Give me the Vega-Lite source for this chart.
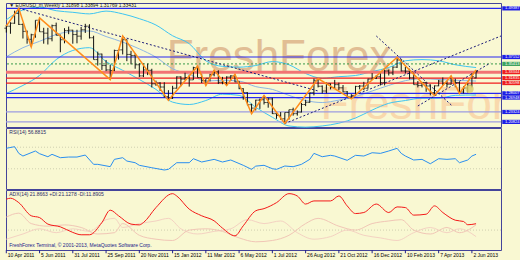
{
"$schema":"https://vega.github.io/schema/vega-lite/v6.json",
"background":"#F9F8D2",
"padding":{"left":2,"top":2,"right":0,"bottom":11},
"spacing":1,
"bounds":"flush",
"config":{"view":{"stroke":"#44449A","strokeWidth":1,"fill":"#F9F8D2"},"font":"Liberation Sans","axis":{"labelFont":"Liberation Sans","labelFontSize":5,"labelColor":"#111111","domainColor":"#8C8CC0","tickColor":"#6A6AAA","tickSize":2,"grid":false,"labelPadding":1}},
"datasets":{
"one":[{}],
"xlabels":[
{"d":"2011-04-10","t":"10 Apr 2011"},{"d":"2011-06-05","t":"5 Jun 2011"},{"d":"2011-07-31","t":"31 Jul 2011"},{"d":"2011-09-25","t":"25 Sep 2011"},
{"d":"2011-11-20","t":"20 Nov 2011"},{"d":"2012-01-15","t":"15 Jan 2012"},{"d":"2012-03-11","t":"11 Mar 2012"},{"d":"2012-05-06","t":"6 May 2012"},
{"d":"2012-07-01","t":"1 Jul 2012"},{"d":"2012-08-26","t":"26 Aug 2012"},{"d":"2012-10-21","t":"21 Oct 2012"},{"d":"2012-12-16","t":"16 Dec 2012"},
{"d":"2013-02-10","t":"10 Feb 2013"},{"d":"2013-04-07","t":"7 Apr 2013"},{"d":"2013-06-02","t":"2 Jun 2013"}
],
"bars":[
{"d":"2011-04-10","o":1.4440,"h":1.4520,"l":1.4330,"c":1.4490},
{"d":"2011-04-17","o":1.4490,"h":1.4590,"l":1.4300,"c":1.4565},
{"d":"2011-04-24","o":1.4565,"h":1.4880,"l":1.4550,"c":1.4810},
{"d":"2011-05-01","o":1.4810,"h":1.4940,"l":1.4520,"c":1.4535},
{"d":"2011-05-08","o":1.4535,"h":1.4560,"l":1.4180,"c":1.4360},
{"d":"2011-05-15","o":1.4360,"h":1.4380,"l":1.4050,"c":1.4160},
{"d":"2011-05-22","o":1.4160,"h":1.4300,"l":1.3970,"c":1.4275},
{"d":"2011-05-29","o":1.4275,"h":1.4640,"l":1.4200,"c":1.4640},
{"d":"2011-06-05","o":1.4640,"h":1.4700,"l":1.4350,"c":1.4350},
{"d":"2011-06-12","o":1.4350,"h":1.4450,"l":1.4050,"c":1.4315},
{"d":"2011-06-19","o":1.4315,"h":1.4450,"l":1.4030,"c":1.4175},
{"d":"2011-06-26","o":1.4175,"h":1.4530,"l":1.4110,"c":1.4505},
{"d":"2011-07-03","o":1.4505,"h":1.4580,"l":1.4260,"c":1.4260},
{"d":"2011-07-10","o":1.4260,"h":1.4280,"l":1.3835,"c":1.4150},
{"d":"2011-07-17","o":1.4150,"h":1.4440,"l":1.4060,"c":1.4380},
{"d":"2011-07-24","o":1.4380,"h":1.4480,"l":1.4290,"c":1.4390},
{"d":"2011-07-31","o":1.4390,"h":1.4400,"l":1.4050,"c":1.4280},
{"d":"2011-08-07","o":1.4280,"h":1.4400,"l":1.4060,"c":1.4240},
{"d":"2011-08-14","o":1.4240,"h":1.4470,"l":1.4150,"c":1.4400},
{"d":"2011-08-21","o":1.4400,"h":1.4550,"l":1.4320,"c":1.4490},
{"d":"2011-08-28","o":1.4490,"h":1.4540,"l":1.4180,"c":1.4200},
{"d":"2011-09-04","o":1.4200,"h":1.4250,"l":1.3650,"c":1.3650},
{"d":"2011-09-11","o":1.3650,"h":1.3850,"l":1.3500,"c":1.3790},
{"d":"2011-09-18","o":1.3790,"h":1.3800,"l":1.3390,"c":1.3500},
{"d":"2011-09-25","o":1.3500,"h":1.3640,"l":1.3360,"c":1.3390},
{"d":"2011-10-02","o":1.3390,"h":1.3520,"l":1.3145,"c":1.3375},
{"d":"2011-10-09","o":1.3375,"h":1.3900,"l":1.3360,"c":1.3880},
{"d":"2011-10-16","o":1.3880,"h":1.3900,"l":1.3650,"c":1.3895},
{"d":"2011-10-23","o":1.3895,"h":1.4245,"l":1.3780,"c":1.4150},
{"d":"2011-10-30","o":1.4150,"h":1.4160,"l":1.3610,"c":1.3780},
{"d":"2011-11-06","o":1.3780,"h":1.3870,"l":1.3530,"c":1.3750},
{"d":"2011-11-13","o":1.3750,"h":1.3810,"l":1.3420,"c":1.3520},
{"d":"2011-11-20","o":1.3520,"h":1.3560,"l":1.3210,"c":1.3240},
{"d":"2011-11-27","o":1.3240,"h":1.3550,"l":1.3210,"c":1.3390},
{"d":"2011-12-04","o":1.3390,"h":1.3550,"l":1.3260,"c":1.3380},
{"d":"2011-12-11","o":1.3380,"h":1.3420,"l":1.2950,"c":1.3040},
{"d":"2011-12-18","o":1.3040,"h":1.3120,"l":1.2990,"c":1.3060},
{"d":"2011-12-25","o":1.3060,"h":1.3080,"l":1.2860,"c":1.2960},
{"d":"2012-01-01","o":1.2960,"h":1.3080,"l":1.2700,"c":1.2720},
{"d":"2012-01-08","o":1.2720,"h":1.2880,"l":1.2625,"c":1.2680},
{"d":"2012-01-15","o":1.2680,"h":1.2990,"l":1.2660,"c":1.2930},
{"d":"2012-01-22","o":1.2930,"h":1.3230,"l":1.2920,"c":1.3215},
{"d":"2012-01-29","o":1.3215,"h":1.3230,"l":1.2980,"c":1.3160},
{"d":"2012-02-05","o":1.3160,"h":1.3320,"l":1.3140,"c":1.3200},
{"d":"2012-02-12","o":1.3200,"h":1.3260,"l":1.2970,"c":1.3140},
{"d":"2012-02-19","o":1.3140,"h":1.3470,"l":1.3140,"c":1.3450},
{"d":"2012-02-26","o":1.3450,"h":1.3485,"l":1.3200,"c":1.3200},
{"d":"2012-03-04","o":1.3200,"h":1.3290,"l":1.3060,"c":1.3120},
{"d":"2012-03-11","o":1.3120,"h":1.3160,"l":1.3000,"c":1.3180},
{"d":"2012-03-18","o":1.3180,"h":1.3290,"l":1.3100,"c":1.3270},
{"d":"2012-03-25","o":1.3270,"h":1.3385,"l":1.3230,"c":1.3340},
{"d":"2012-04-01","o":1.3340,"h":1.3380,"l":1.3035,"c":1.3080},
{"d":"2012-04-08","o":1.3080,"h":1.3215,"l":1.3030,"c":1.3070},
{"d":"2012-04-15","o":1.3070,"h":1.3230,"l":1.2995,"c":1.3210},
{"d":"2012-04-22","o":1.3210,"h":1.3260,"l":1.3115,"c":1.3240},
{"d":"2012-04-29","o":1.3240,"h":1.3283,"l":1.3080,"c":1.3090},
{"d":"2012-05-06","o":1.3090,"h":1.3110,"l":1.2905,"c":1.2920},
{"d":"2012-05-13","o":1.2920,"h":1.2930,"l":1.2640,"c":1.2820},
{"d":"2012-05-20","o":1.2820,"h":1.2830,"l":1.2500,"c":1.2515},
{"d":"2012-05-27","o":1.2515,"h":1.2540,"l":1.2288,"c":1.2430},
{"d":"2012-06-03","o":1.2430,"h":1.2640,"l":1.2370,"c":1.2630},
{"d":"2012-06-10","o":1.2630,"h":1.2670,"l":1.2410,"c":1.2640},
{"d":"2012-06-17","o":1.2640,"h":1.2747,"l":1.2520,"c":1.2570},
{"d":"2012-06-24","o":1.2570,"h":1.2690,"l":1.2440,"c":1.2660},
{"d":"2012-07-01","o":1.2660,"h":1.2690,"l":1.2280,"c":1.2290},
{"d":"2012-07-08","o":1.2290,"h":1.2300,"l":1.2160,"c":1.2245},
{"d":"2012-07-15","o":1.2245,"h":1.2330,"l":1.2140,"c":1.2160},
{"d":"2012-07-22","o":1.2160,"h":1.2320,"l":1.2042,"c":1.2320},
{"d":"2012-07-29","o":1.2320,"h":1.2390,"l":1.2140,"c":1.2390},
{"d":"2012-08-05","o":1.2390,"h":1.2440,"l":1.2240,"c":1.2290},
{"d":"2012-08-12","o":1.2290,"h":1.2370,"l":1.2240,"c":1.2330},
{"d":"2012-08-19","o":1.2330,"h":1.2560,"l":1.2320,"c":1.2520},
{"d":"2012-08-26","o":1.2520,"h":1.2640,"l":1.2480,"c":1.2575},
{"d":"2012-09-02","o":1.2575,"h":1.2820,"l":1.2560,"c":1.2815},
{"d":"2012-09-09","o":1.2815,"h":1.3170,"l":1.2750,"c":1.3130},
{"d":"2012-09-16","o":1.3130,"h":1.3172,"l":1.2950,"c":1.2980},
{"d":"2012-09-23","o":1.2980,"h":1.3000,"l":1.2800,"c":1.2860},
{"d":"2012-09-30","o":1.2860,"h":1.3070,"l":1.2800,"c":1.3040},
{"d":"2012-10-07","o":1.3040,"h":1.3050,"l":1.2900,"c":1.2950},
{"d":"2012-10-14","o":1.2950,"h":1.3140,"l":1.2920,"c":1.3020},
{"d":"2012-10-21","o":1.3020,"h":1.3070,"l":1.2880,"c":1.2940},
{"d":"2012-10-28","o":1.2940,"h":1.3010,"l":1.2830,"c":1.2840},
{"d":"2012-11-04","o":1.2840,"h":1.2860,"l":1.2700,"c":1.2710},
{"d":"2012-11-11","o":1.2710,"h":1.2780,"l":1.2661,"c":1.2740},
{"d":"2012-11-18","o":1.2740,"h":1.2990,"l":1.2740,"c":1.2975},
{"d":"2012-11-25","o":1.2975,"h":1.3010,"l":1.2900,"c":1.2985},
{"d":"2012-12-02","o":1.2985,"h":1.3090,"l":1.2880,"c":1.2930},
{"d":"2012-12-09","o":1.2930,"h":1.3170,"l":1.2920,"c":1.3160},
{"d":"2012-12-16","o":1.3160,"h":1.3310,"l":1.3140,"c":1.3180},
{"d":"2012-12-23","o":1.3180,"h":1.3260,"l":1.3160,"c":1.3220},
{"d":"2012-12-30","o":1.3220,"h":1.3300,"l":1.3000,"c":1.3070},
{"d":"2013-01-06","o":1.3070,"h":1.3400,"l":1.3000,"c":1.3365},
{"d":"2013-01-13","o":1.3365,"h":1.3400,"l":1.3250,"c":1.3315},
{"d":"2013-01-20","o":1.3315,"h":1.3480,"l":1.3260,"c":1.3460},
{"d":"2013-01-27","o":1.3460,"h":1.3711,"l":1.3440,"c":1.3640},
{"d":"2013-02-03","o":1.3640,"h":1.3660,"l":1.3350,"c":1.3365},
{"d":"2013-02-10","o":1.3365,"h":1.3470,"l":1.3300,"c":1.3360},
{"d":"2013-02-17","o":1.3360,"h":1.3420,"l":1.3150,"c":1.3190},
{"d":"2013-02-24","o":1.3190,"h":1.3320,"l":1.3020,"c":1.3020},
{"d":"2013-03-03","o":1.3020,"h":1.3110,"l":1.2950,"c":1.3000},
{"d":"2013-03-10","o":1.3000,"h":1.3080,"l":1.2950,"c":1.3075},
{"d":"2013-03-17","o":1.3075,"h":1.3080,"l":1.2840,"c":1.2985},
{"d":"2013-03-24","o":1.2985,"h":1.3030,"l":1.2750,"c":1.2820},
{"d":"2013-03-31","o":1.2820,"h":1.3000,"l":1.2745,"c":1.2990},
{"d":"2013-04-07","o":1.2990,"h":1.3140,"l":1.2980,"c":1.3110},
{"d":"2013-04-14","o":1.3110,"h":1.3200,"l":1.2995,"c":1.3050},
{"d":"2013-04-21","o":1.3050,"h":1.3110,"l":1.2950,"c":1.3030},
{"d":"2013-04-28","o":1.3030,"h":1.3242,"l":1.3020,"c":1.3110},
{"d":"2013-05-05","o":1.3110,"h":1.3170,"l":1.2955,"c":1.3070},
{"d":"2013-05-12","o":1.3070,"h":1.3090,"l":1.2796,"c":1.2835},
{"d":"2013-05-19","o":1.2835,"h":1.2980,"l":1.2800,"c":1.2935},
{"d":"2013-05-26","o":1.2935,"h":1.3060,"l":1.2820,"c":1.3005},
{"d":"2013-06-02","o":1.3005,"h":1.3310,"l":1.2950,"c":1.3220},
{"d":"2013-06-09","o":1.3189,"h":1.3389,"l":1.3177,"c":1.3343}
],
"bands":[
{"d":"2011-04-10","up":1.465,"mid":1.372,"lo":1.280},
{"d":"2011-05-08","up":1.490,"mid":1.395,"lo":1.300},
{"d":"2011-06-05","up":1.497,"mid":1.411,"lo":1.325},
{"d":"2011-07-03","up":1.488,"mid":1.428,"lo":1.365},
{"d":"2011-07-31","up":1.484,"mid":1.436,"lo":1.388},
{"d":"2011-08-28","up":1.480,"mid":1.437,"lo":1.395},
{"d":"2011-09-25","up":1.487,"mid":1.423,"lo":1.360},
{"d":"2011-10-23","up":1.480,"mid":1.409,"lo":1.338},
{"d":"2011-11-20","up":1.468,"mid":1.392,"lo":1.315},
{"d":"2011-12-18","up":1.452,"mid":1.371,"lo":1.290},
{"d":"2012-01-15","up":1.425,"mid":1.342,"lo":1.258},
{"d":"2012-02-12","up":1.405,"mid":1.328,"lo":1.252},
{"d":"2012-03-11","up":1.362,"mid":1.311,"lo":1.262},
{"d":"2012-04-08","up":1.348,"mid":1.313,"lo":1.278},
{"d":"2012-05-06","up":1.346,"mid":1.311,"lo":1.275},
{"d":"2012-06-03","up":1.350,"mid":1.297,"lo":1.245},
{"d":"2012-07-01","up":1.360,"mid":1.290,"lo":1.220},
{"d":"2012-07-29","up":1.352,"mid":1.275,"lo":1.198},
{"d":"2012-08-26","up":1.330,"mid":1.262,"lo":1.195},
{"d":"2012-09-23","up":1.318,"mid":1.257,"lo":1.198},
{"d":"2012-10-21","up":1.322,"mid":1.263,"lo":1.205},
{"d":"2012-11-18","up":1.325,"mid":1.272,"lo":1.218},
{"d":"2012-12-16","up":1.335,"mid":1.286,"lo":1.238},
{"d":"2013-01-13","up":1.345,"mid":1.300,"lo":1.255},
{"d":"2013-02-10","up":1.362,"mid":1.312,"lo":1.262},
{"d":"2013-03-10","up":1.365,"mid":1.317,"lo":1.268},
{"d":"2013-04-07","up":1.362,"mid":1.315,"lo":1.268},
{"d":"2013-05-05","up":1.352,"mid":1.313,"lo":1.275},
{"d":"2013-06-09","up":1.345,"mid":1.311,"lo":1.276}
],
"zigzag":[
{"d":"2011-04-10","p":1.4495},{"d":"2011-05-01","p":1.4940},{"d":"2011-05-22","p":1.3970},{"d":"2011-06-05","p":1.4700},
{"d":"2011-10-02","p":1.3145},{"d":"2011-10-23","p":1.4245},{"d":"2012-01-08","p":1.2625},{"d":"2012-02-26","p":1.3485},
{"d":"2012-03-11","p":1.3000},{"d":"2012-03-25","p":1.3385},{"d":"2012-04-15","p":1.2995},{"d":"2012-04-29","p":1.3283},
{"d":"2012-05-27","p":1.2288},{"d":"2012-06-17","p":1.2747},{"d":"2012-07-22","p":1.2042},{"d":"2012-09-16","p":1.3172},
{"d":"2012-11-11","p":1.2661},{"d":"2013-01-27","p":1.3711},{"d":"2013-03-31","p":1.2745},{"d":"2013-04-28","p":1.3242},
{"d":"2013-05-12","p":1.2796},{"d":"2013-06-09","p":1.3389}
],
"trend":[
{"id":"a","d":"2011-05-01","p":1.4940},{"id":"a","d":"2012-09-16","p":1.2860},
{"id":"b","d":"2012-07-22","p":1.2042},{"id":"b","d":"2013-07-21","p":1.4244},
{"id":"c","d":"2013-03-03","p":1.2483},{"id":"c","d":"2013-07-03","p":1.3564},
{"id":"e","d":"2012-12-23","p":1.4244},{"id":"e","d":"2013-04-30","p":1.2483}
],
"levels":[
{"p":1.49387,"t":"1.49387","k":"s"},{"p":1.37152,"t":"1.37152","k":"s"},{"p":1.35413,"t":"1.35413","k":"g"},
{"p":1.33344,"t":"1.33344","k":"r"},{"p":1.31835,"t":"1.31835","k":"r"},{"p":1.30598,"t":"1.30598","k":"r"},
{"p":1.28007,"t":"1.28007","k":"s"},{"p":1.26948,"t":"1.26948","k":"s"},{"p":1.23324,"t":"1.23324","k":"s"},{"p":1.20824,"t":"1.20824","k":"s"}
],
"rsi":[
{"d":"2011-04-10","v":68},{"d":"2011-04-24","v":71},{"d":"2011-05-01","v":58.6},{"d":"2011-05-08","v":53.7},{"d":"2011-05-29","v":63},
{"d":"2011-06-05","v":58},{"d":"2011-06-19","v":52.4},{"d":"2011-06-26","v":56.8},{"d":"2011-07-10","v":50.6},{"d":"2011-07-24","v":51.8},
{"d":"2011-08-07","v":51.8},{"d":"2011-08-21","v":55.5},{"d":"2011-09-04","v":38.3},{"d":"2011-09-11","v":38.3},{"d":"2011-10-02","v":34},
{"d":"2011-10-09","v":47.5},{"d":"2011-10-23","v":50.6},{"d":"2011-10-30","v":44.4},{"d":"2011-11-13","v":41.3},{"d":"2011-11-20","v":36.5},
{"d":"2011-12-11","v":32},{"d":"2012-01-01","v":27.8},{"d":"2012-01-08","v":29},{"d":"2012-01-22","v":41.3},{"d":"2012-02-12","v":41.3},
{"d":"2012-02-19","v":48.7},{"d":"2012-03-04","v":42.6},{"d":"2012-03-25","v":47.5},{"d":"2012-04-08","v":42.6},{"d":"2012-04-22","v":46.3},
{"d":"2012-05-13","v":36.5},{"d":"2012-05-27","v":29},{"d":"2012-06-03","v":35},{"d":"2012-06-17","v":36.5},{"d":"2012-07-01","v":30.2},
{"d":"2012-07-08","v":29},{"d":"2012-07-22","v":35.2},{"d":"2012-08-05","v":33.9},{"d":"2012-08-19","v":38.3},{"d":"2012-09-02","v":47.5},
{"d":"2012-09-09","v":58.6},{"d":"2012-09-23","v":52.4},{"d":"2012-10-07","v":55},{"d":"2012-10-14","v":53.7},{"d":"2012-11-04","v":45.7},
{"d":"2012-11-18","v":55},{"d":"2012-12-02","v":53.7},{"d":"2012-12-16","v":59.8},{"d":"2012-12-30","v":58.6},{"d":"2013-01-13","v":63},
{"d":"2013-01-27","v":68},{"d":"2013-02-03","v":58.6},{"d":"2013-02-10","v":53.7},{"d":"2013-02-24","v":46.3},{"d":"2013-03-10","v":47.5},
{"d":"2013-03-24","v":39.4},{"d":"2013-04-07","v":48.7},{"d":"2013-04-21","v":47.5},{"d":"2013-05-05","v":48.7},{"d":"2013-05-12","v":41.3},
{"d":"2013-05-26","v":46.3},{"d":"2013-06-02","v":53.7},{"d":"2013-06-09","v":56.9}
],
"adx":[
{"d":"2011-04-10","v":40.7},{"d":"2011-04-17","v":41.5},{"d":"2011-05-01","v":38.1},{"d":"2011-05-22","v":28},{"d":"2011-06-05","v":26.6},
{"d":"2011-06-19","v":21.6},{"d":"2011-07-10","v":19.5},{"d":"2011-07-31","v":15.2},{"d":"2011-08-14","v":13.4},{"d":"2011-08-28","v":13.4},
{"d":"2011-09-18","v":22.8},{"d":"2011-10-02","v":32.3},{"d":"2011-10-16","v":28},{"d":"2011-11-06","v":21.6},{"d":"2011-11-20","v":21},
{"d":"2011-11-27","v":22.8},{"d":"2011-12-18","v":34.3},{"d":"2012-01-15","v":45},{"d":"2012-01-22","v":43.2},{"d":"2012-02-12","v":33.1},
{"d":"2012-03-04","v":28},{"d":"2012-03-25","v":24.1},{"d":"2012-04-08","v":18.5},{"d":"2012-04-29","v":12.6},{"d":"2012-05-13","v":20.3},
{"d":"2012-06-03","v":31.8},{"d":"2012-06-17","v":33.5},{"d":"2012-07-08","v":38.1},{"d":"2012-07-29","v":45},{"d":"2012-08-12","v":43.2},
{"d":"2012-08-26","v":37},{"d":"2012-09-09","v":39.4},{"d":"2012-10-07","v":39.4},{"d":"2012-10-21","v":43.2},{"d":"2012-11-04","v":35.6},
{"d":"2012-11-18","v":29.7},{"d":"2012-12-02","v":30.5},{"d":"2012-12-23","v":37},{"d":"2013-01-13","v":30.5},{"d":"2013-01-27","v":34.8},
{"d":"2013-02-10","v":34.3},{"d":"2013-02-24","v":28.5},{"d":"2013-03-17","v":29.2},{"d":"2013-03-31","v":35.6},{"d":"2013-04-14","v":30.5},
{"d":"2013-05-05","v":24.6},{"d":"2013-05-19","v":23.6},{"d":"2013-05-26","v":21.1},{"d":"2013-06-09","v":21.9}
],
"pdi":[
{"d":"2011-04-10","v":27},{"d":"2011-05-01","v":30},{"d":"2011-05-22","v":22},{"d":"2011-06-19","v":20},{"d":"2011-07-17","v":21},
{"d":"2011-08-14","v":19},{"d":"2011-09-11","v":14},{"d":"2011-10-09","v":15},{"d":"2011-10-23","v":22},{"d":"2011-11-20","v":13},
{"d":"2011-12-18","v":10},{"d":"2012-01-15","v":9},{"d":"2012-02-12","v":17},{"d":"2012-03-11","v":18},{"d":"2012-04-08","v":16},
{"d":"2012-05-06","v":11},{"d":"2012-06-03","v":8},{"d":"2012-07-01","v":9},{"d":"2012-07-29","v":13},{"d":"2012-08-26","v":22},
{"d":"2012-09-16","v":26},{"d":"2012-10-21","v":20},{"d":"2012-11-18","v":17},{"d":"2012-12-16","v":22},{"d":"2013-01-13","v":24},
{"d":"2013-02-03","v":25},{"d":"2013-02-24","v":17},{"d":"2013-03-24","v":14},{"d":"2013-04-21","v":19},{"d":"2013-05-12","v":15},{"d":"2013-06-09","v":21}
],
"mdi":[
{"d":"2011-04-10","v":10},{"d":"2011-05-08","v":14},{"d":"2011-06-05","v":18},{"d":"2011-07-03","v":15},{"d":"2011-07-31","v":18},
{"d":"2011-08-28","v":16},{"d":"2011-09-25","v":25},{"d":"2011-10-09","v":26},{"d":"2011-10-23","v":19},{"d":"2011-11-20","v":22},
{"d":"2011-12-18","v":24},{"d":"2012-01-08","v":26},{"d":"2012-01-29","v":18},{"d":"2012-02-26","v":14},{"d":"2012-03-25","v":16},
{"d":"2012-04-22","v":18},{"d":"2012-05-20","v":25},{"d":"2012-06-17","v":22},{"d":"2012-07-15","v":24},{"d":"2012-08-12","v":15},
{"d":"2012-09-09","v":10},{"d":"2012-10-07","v":12},{"d":"2012-11-04","v":17},{"d":"2012-12-02","v":13},{"d":"2012-12-30","v":11},
{"d":"2013-01-27","v":9},{"d":"2013-02-24","v":15},{"d":"2013-03-24","v":19},{"d":"2013-04-21","v":15},{"d":"2013-05-12","v":18},{"d":"2013-06-09","v":12}
]
},
"vconcat":[
{
"width":495,"height":124,
"layer":[
{"data":{"name":"one"},"mark":{"type":"text","align":"left","baseline":"alphabetic","fontSize":44,"font":"Liberation Sans","color":"#DDB48A","opacity":0.85},
 "encoding":{"x":{"datum":{"year":2012,"month":1,"date":5,"utc":true},"type":"temporal","scale":{"type":"utc","domain":[{"year":2011,"month":4,"date":9,"hours":12,"utc":true},{"year":2013,"month":7,"date":21,"utc":true}]},"axis":null},
 "y":{"datum":1.3363,"type":"quantitative","scale":{"domain":[1.1954,1.5074],"nice":false,"zero":false},"axis":{"orient":"right","values":[1.46,1.43,1.24],"format":".4f","title":null}},
 "text":{"value":"FreshForex"}}},
{"data":{"name":"one"},"mark":{"type":"text","align":"left","baseline":"alphabetic","fontSize":46,"font":"Liberation Sans","color":"#F9D6A8","opacity":0.9,"clip":true},
 "encoding":{"x":{"datum":{"year":2012,"month":9,"date":20,"utc":true},"type":"temporal","axis":null},"y":{"datum":1.2155,"type":"quantitative","axis":null},"text":{"value":"FreshForex"}}},
{"data":{"name":"bands"},"mark":{"type":"line","color":"#3EC5F2","strokeWidth":1,"interpolate":"monotone"},
 "encoding":{"x":{"field":"d","type":"temporal","axis":null},"y":{"field":"up","type":"quantitative","axis":null}}},
{"data":{"name":"bands"},"mark":{"type":"line","color":"#3EC5F2","strokeWidth":1,"interpolate":"monotone"},
 "encoding":{"x":{"field":"d","type":"temporal","axis":null},"y":{"field":"lo","type":"quantitative","axis":null}}},
{"data":{"name":"bands"},"mark":{"type":"line","color":"#8DB6E4","strokeWidth":1,"interpolate":"monotone"},
 "encoding":{"x":{"field":"d","type":"temporal","axis":null},"y":{"field":"mid","type":"quantitative","axis":null}}},
{"data":{"name":"levels"},"transform":[{"filter":"datum.k=='s' && datum.p>1.25"}],"mark":{"type":"rule","color":"#2828F0","strokeWidth":1.2},
 "encoding":{"y":{"field":"p","type":"quantitative","axis":null}}},
{"data":{"name":"levels"},"transform":[{"filter":"datum.k=='s' && datum.p<1.25"}],"mark":{"type":"rule","color":"#9C9CE0","strokeWidth":1.2},
 "encoding":{"y":{"field":"p","type":"quantitative","axis":null}}},
{"data":{"name":"levels"},"transform":[{"filter":"datum.k=='g'"}],"mark":{"type":"rule","color":"#3A9A4A","strokeWidth":1,"strokeDash":[2,2]},
 "encoding":{"y":{"field":"p","type":"quantitative","axis":null}}},
{"data":{"name":"levels"},"transform":[{"filter":"datum.k=='r' && datum.p>1.33"}],"mark":{"type":"rule","color":"#F27474","strokeWidth":3},
 "encoding":{"y":{"field":"p","type":"quantitative","axis":null}}},
{"data":{"name":"levels"},"transform":[{"filter":"datum.k=='r' && datum.p<1.33"}],"mark":{"type":"rule","color":"#F01C1C","strokeWidth":1.2},
 "encoding":{"y":{"field":"p","type":"quantitative","axis":null}}},
{"data":{"name":"trend"},"mark":{"type":"line","color":"#1C1C78","strokeWidth":1,"strokeDash":[2,2],"clip":true},
 "encoding":{"x":{"field":"d","type":"temporal","axis":null},"y":{"field":"p","type":"quantitative","axis":null},"detail":{"field":"id"}}},
{"data":{"name":"bars"},"mark":{"type":"rule","strokeWidth":1,"color":"#111111"},
 "encoding":{"x":{"field":"d","type":"temporal","axis":null},"y":{"field":"h","type":"quantitative","axis":null},"y2":{"field":"l"}}},
{"data":{"name":"bars"},"mark":{"type":"tick","orient":"horizontal","size":2,"thickness":1,"xOffset":-1,"color":"#111111"},
 "encoding":{"x":{"field":"d","type":"temporal","axis":null},"y":{"field":"o","type":"quantitative","axis":null}}},
{"data":{"name":"bars"},"mark":{"type":"tick","orient":"horizontal","size":2,"thickness":1,"xOffset":1,"color":"#111111"},
 "encoding":{"x":{"field":"d","type":"temporal","axis":null},"y":{"field":"c","type":"quantitative","axis":null}}},
{"data":{"name":"zigzag"},"mark":{"type":"line","color":"#FF8C1A","strokeWidth":1.5},
 "encoding":{"x":{"field":"d","type":"temporal","axis":null},"y":{"field":"p","type":"quantitative","axis":null}}},
{"data":{"name":"one"},"mark":{"type":"point","filled":true,"color":"#D8CC6A","opacity":0.8,"size":70},
 "encoding":{"x":{"datum":{"year":2013,"month":5,"date":29,"utc":true},"type":"temporal","axis":null},"y":{"datum":1.291,"type":"quantitative","axis":null}}},
{"data":{"name":"levels"},"mark":{"type":"point","filled":true,"opacity":1,"shape":"M-1,-0.21H1V0.21H-1Z","size":400,"strokeWidth":0},
 "encoding":{"x":{"datum":{"year":2013,"month":8,"date":9,"utc":true},"type":"temporal","axis":null},"y":{"field":"p","type":"quantitative","axis":null},
 "color":{"field":"k","type":"nominal","legend":null,"scale":{"domain":["s","r","g"],"range":["#1E1EE6","#EE1E1E","#3EA35E"]}}}},
{"data":{"name":"levels"},"mark":{"type":"text","fontSize":4,"color":"#FFFFFF","align":"center","baseline":"middle"},
 "encoding":{"x":{"datum":{"year":2013,"month":8,"date":9,"utc":true},"type":"temporal","axis":null},"y":{"field":"p","type":"quantitative","axis":null},"text":{"field":"t"}}},
{"data":{"name":"one"},"mark":{"type":"text","fontSize":4.9,"color":"#111111","align":"left","baseline":"middle"},
 "encoding":{"x":{"datum":{"year":2011,"month":4,"date":15,"utc":true},"type":"temporal","axis":null},"y":{"datum":1.4999,"type":"quantitative","axis":null},
 "text":{"value":"▼ EURUSD_m,Weekly  1.31898 1.33894 1.31769 1.33431"}}}
]
},
{
"width":495,"height":61,
"layer":[
{"data":{"values":[{"v":70},{"v":30}]},"mark":{"type":"rule","color":"#CFCFB0","strokeWidth":1,"strokeDash":[1,2]},
 "encoding":{"y":{"field":"v","type":"quantitative","scale":{"domain":[-7.4,105.6],"nice":false,"zero":false},"axis":{"orient":"right","values":[100,70,30,0],"title":null}}}},
{"data":{"name":"rsi"},"mark":{"type":"line","color":"#2A8FF0","strokeWidth":1},
 "encoding":{"x":{"field":"d","type":"temporal","scale":{"type":"utc","domain":[{"year":2011,"month":4,"date":9,"hours":12,"utc":true},{"year":2013,"month":7,"date":21,"utc":true}]},"axis":null},"y":{"field":"v","type":"quantitative","axis":null}}},
{"data":{"name":"one"},"mark":{"type":"text","fontSize":5,"color":"#2A2A66","align":"left","baseline":"middle"},
 "encoding":{"x":{"datum":{"year":2011,"month":4,"date":15,"utc":true},"type":"temporal","axis":null},"y":{"datum":97.3,"type":"quantitative","axis":null},"text":{"value":"RSI(14) 56.8815"}}}
]
},
{
"width":495,"height":60,
"layer":[
{"data":{"values":[{"v":17}]},"mark":{"type":"rule","color":"#CFCFB0","strokeWidth":1,"strokeDash":[1,2]},
 "encoding":{"y":{"field":"v","type":"quantitative","scale":{"domain":[1.7,47.8],"nice":false,"zero":false},"axis":{"orient":"right","values":[45,17,3],"title":null}}}},
{"data":{"name":"mdi"},"mark":{"type":"line","color":"#F4D2C2","strokeWidth":1,"interpolate":"monotone"},
 "encoding":{"x":{"field":"d","type":"temporal","scale":{"type":"utc","domain":[{"year":2011,"month":4,"date":9,"hours":12,"utc":true},{"year":2013,"month":7,"date":21,"utc":true}]},"axis":null},
 "y":{"field":"v","type":"quantitative","axis":null}}},
{"data":{"name":"pdi"},"mark":{"type":"line","color":"#F1C6B6","strokeWidth":1,"interpolate":"monotone"},
 "encoding":{"x":{"field":"d","type":"temporal","axis":null},"y":{"field":"v","type":"quantitative","axis":null}}},
{"data":{"name":"adx"},"mark":{"type":"line","color":"#F41818","strokeWidth":1,"interpolate":"monotone"},
 "encoding":{"x":{"field":"d","type":"temporal","axis":null},"y":{"field":"v","type":"quantitative","axis":null}}},
{"data":{"name":"xlabels"},"mark":{"type":"rule","color":"#22228A","strokeWidth":1},
 "encoding":{"x":{"field":"d","type":"temporal","axis":null},"y":{"datum":1.7,"type":"quantitative","axis":null},"y2":{"datum":-0.8}}},
{"data":{"name":"xlabels"},"mark":{"type":"text","fontSize":5,"color":"#000000","align":"left","baseline":"top","dx":1.5},
 "encoding":{"x":{"field":"d","type":"temporal","axis":null},"y":{"datum":-0.6,"type":"quantitative","axis":null},"text":{"field":"t"}}},
{"data":{"name":"one"},"mark":{"type":"text","fontSize":5,"color":"#2A2A66","align":"left","baseline":"middle"},
 "encoding":{"x":{"datum":{"year":2011,"month":4,"date":15,"utc":true},"type":"temporal","axis":null},"y":{"datum":44.7,"type":"quantitative","axis":null},"text":{"value":"ADX(14) 21.8663 +DI:21.1278 -DI:11.8905"}}},
{"data":{"name":"one"},"mark":{"type":"text","fontSize":5,"color":"#1A1A8A","align":"left","baseline":"middle"},
 "encoding":{"x":{"datum":{"year":2011,"month":4,"date":15,"utc":true},"type":"temporal","axis":null},"y":{"datum":5.5,"type":"quantitative","axis":null},"text":{"value":"FreshForex Terminal, © 2001-2013, MetaQuotes Software Corp."}}}
]
}
]
}
